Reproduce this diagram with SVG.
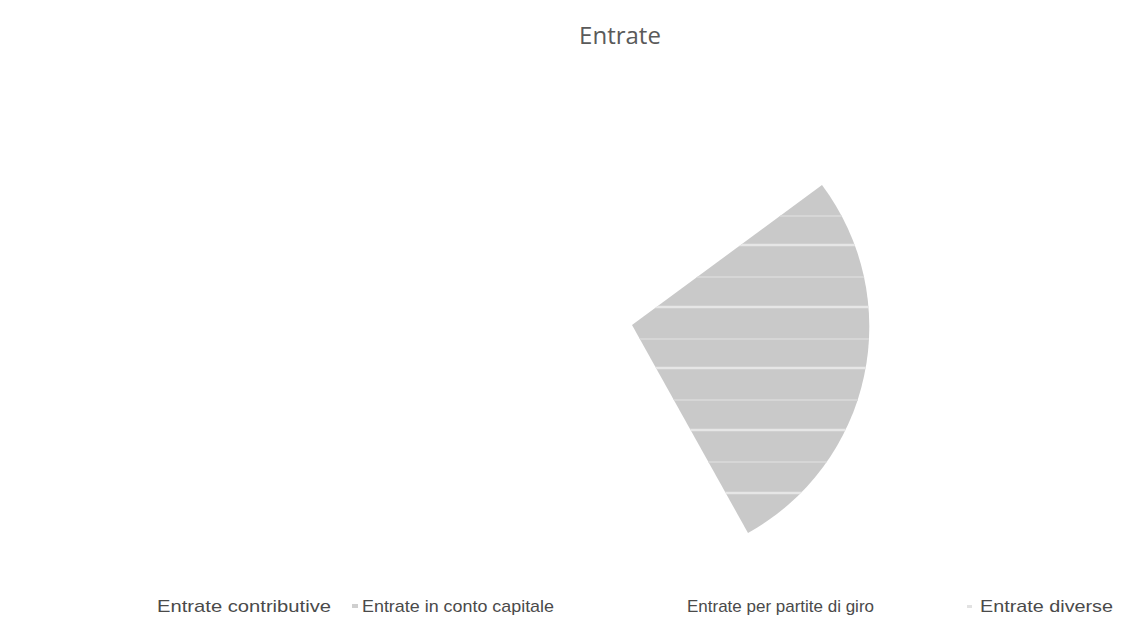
<svg xmlns="http://www.w3.org/2000/svg" width="1127" height="629" viewBox="0 0 1127 629">
<style>
.t{font-family:"Open Sans","Liberation Sans",sans-serif;fill:#5a5a5a}
.lg{font-family:"Liberation Sans","Open Sans",sans-serif;font-size:17px;fill:#4a4a4a}
.stripe{stroke:#e6e6e6;stroke-width:2.5}
.stripe2{stroke:#d6d6d6;stroke-width:2}
</style>
<defs>
<clipPath id="slice"><path d="M632,325 L822,185 A236,236 0 0 1 748,533 Z"/></clipPath>
</defs>
<rect width="1127" height="629" fill="#ffffff"/>
<text class="t" x="620" y="44" font-size="24" text-anchor="middle">Entrate</text>
<g id="slice-node">
<path d="M632,325 L822,185 A236,236 0 0 1 748,533 Z" fill="#c9c9c9"/>
<g clip-path="url(#slice)">
<line class="stripe2" x1="600" y1="216" x2="880" y2="216"/>
<line class="stripe" x1="600" y1="245" x2="880" y2="245"/>
<line class="stripe2" x1="600" y1="277" x2="880" y2="277"/>
<line class="stripe" x1="600" y1="307" x2="880" y2="307"/>
<line class="stripe2" x1="600" y1="339" x2="880" y2="339"/>
<line class="stripe" x1="600" y1="368" x2="880" y2="368"/>
<line class="stripe2" x1="600" y1="400" x2="880" y2="400"/>
<line class="stripe" x1="600" y1="430" x2="880" y2="430"/>
<line class="stripe2" x1="600" y1="462" x2="880" y2="462"/>
<line class="stripe" x1="600" y1="493" x2="880" y2="493"/>
</g>
</g>
<g id="legend">
<text class="lg" x="157" y="612" textLength="174" lengthAdjust="spacingAndGlyphs">Entrate contributive</text>
<rect x="352" y="604" width="6" height="4" fill="#cfcfcf"/>
<text class="lg" x="362" y="612" textLength="192" lengthAdjust="spacingAndGlyphs">Entrate in conto capitale</text>
<text class="lg" x="687" y="612" textLength="187" lengthAdjust="spacingAndGlyphs">Entrate per partite di giro</text>
<rect x="967" y="605" width="5" height="3" fill="#e2e2e2"/>
<text class="lg" x="980" y="612" textLength="133" lengthAdjust="spacingAndGlyphs">Entrate diverse</text>
</g>
</svg>
